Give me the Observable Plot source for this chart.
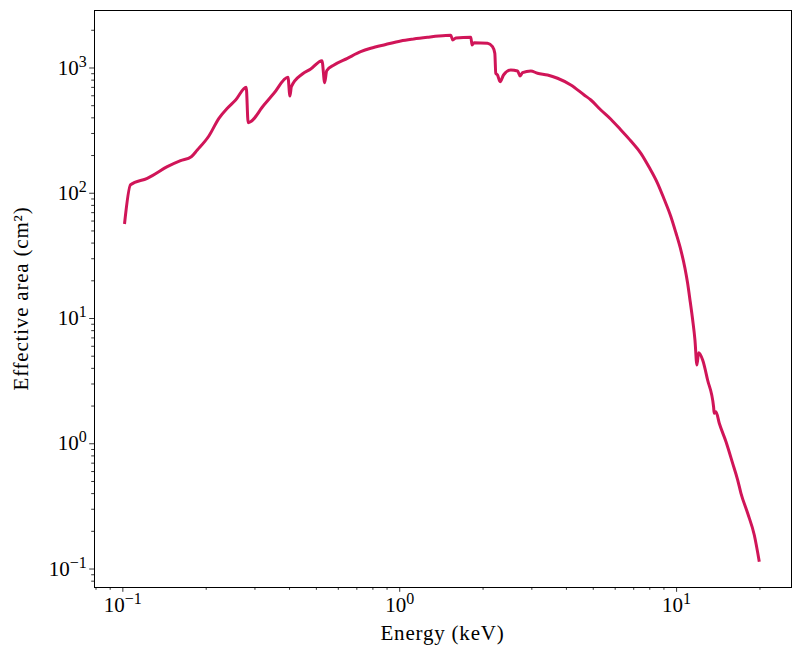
<!DOCTYPE html>
<html>
<head>
<meta charset="utf-8">
<script src="https://cdn.jsdelivr.net/npm/d3@7"></script>
<script src="https://cdn.jsdelivr.net/npm/@observablehq/plot@0.6"></script>
<style>
  html, body { margin: 0; padding: 0; background: #fff; }
  #chart svg { display: block; }
</style>
</head>
<body>
<div id="chart"></div>
<script>
// Energy (keV) and effective area (cm^2)
const energy = [
  0.1014, 0.1066, 0.1225, 0.1278, 0.1447, 0.1616, 0.1767, 0.1857, 0.2045, 0.2223,
  0.2384, 0.2555, 0.2790, 0.2835, 0.3233, 0.3513, 0.3947, 0.4013, 0.4061, 0.4450,
  0.4770, 0.5238, 0.5358, 0.5448, 0.5790, 0.6471, 0.7228, 0.7855, 0.890, 1.0083,
  1.1235, 1.2593, 1.384, 1.5285, 1.554, 1.594, 1.806, 1.825, 1.856, 2.075,
  2.163, 2.205, 2.223, 2.255, 2.304, 2.371, 2.519, 2.664, 2.722, 2.777,
  2.975, 3.146, 3.419, 3.715, 4.150, 4.636, 4.902, 5.326, 5.80, 6.292, 6.837,
  7.430, 7.96, 8.537, 9.02, 9.537, 9.94, 10.36, 10.72, 10.96, 11.20,
  11.43, 11.65, 11.84, 12.01, 12.42, 12.94, 13.60, 13.67, 13.87, 14.26,
  15.08, 15.94, 16.62, 17.08, 18.06, 19.08, 19.89
];
const area = [
  56.8, 117.0, 131.6, 138.1, 162.9, 181.9, 195.8, 221.4, 286.5, 396.7,
  476.8, 555.2, 701.4, 365.8, 506.5, 628.1, 842.6, 597.6, 709.2, 895.5,
  982, 1144, 763, 951.5, 1057, 1195, 1349, 1437, 1540, 1643,
  1704, 1759, 1801, 1824, 1674, 1736, 1759, 1526, 1592, 1575,
  1480, 1311, 907, 879, 777.5, 879, 964, 946, 863, 917,
  946, 907, 879, 828, 731.8, 608.6, 555, 462, 388, 319.9, 261.3,
  208.4, 161.2, 120.1, 89.5, 65.0, 48.4, 35.2, 25.2, 19.1, 13.6,
  9.73, 6.73, 4.25, 5.33, 4.66, 3.23, 1.976, 1.75, 1.80, 1.457,
  1.038, 0.698, 0.5135, 0.402, 0.2784, 0.1868, 0.1144
];

const xMajor = [0.1, 1, 10];
const xMinor = [0.08, 0.09, 0.2, 0.3, 0.4, 0.5, 0.6, 0.7, 0.8, 0.9, 2, 3, 4, 5, 6, 7, 8, 9, 20];
const yMajor = [0.1, 1, 10, 100, 1000];
const yMinor = [0.08, 0.09, 0.2, 0.3, 0.4, 0.5, 0.6, 0.7, 0.8, 0.9, 2, 3, 4, 5, 6, 7, 8, 9,
  20, 30, 40, 50, 60, 70, 80, 90, 200, 300, 400, 500, 600, 700, 800, 900, 2000];

const xLabel = "Energy (keV)";
const yLabel = "Effective area (cm²)";

const data = energy.map((e, i) => ({energy: e, area: area[i]}));

const sup = {"-": "⁻", "0": "⁰", "1": "¹", "2": "²", "3": "³", "4": "⁴", "5": "⁵", "6": "⁶", "7": "⁷", "8": "⁸", "9": "⁹"};
const unsup = Object.fromEntries(Object.entries(sup).map(([k, v]) => [v, k === "-" ? "−" : k]));
const pow10 = v => "10" + String(Math.round(Math.log10(v))).split("").map(c => sup[c]).join("");

const FONT = "'Liberation Serif', 'DejaVu Serif', serif";

const chart = Plot.plot({
  width: 800,
  height: 657,
  marginLeft: 94,
  marginRight: 9,
  marginTop: 10,
  marginBottom: 70,
  style: {fontFamily: FONT, color: "#000", background: "#fff"},
  x: {type: "log", domain: [0.0790, 26.0]},
  y: {type: "log", domain: [0.0712, 2877]},
  marks: [
    Plot.axisX(xMinor, {tickSize: 2.8, text: null, stroke: "#000", strokeWidth: 0.8, label: null}),
    Plot.axisX(xMajor, {tickSize: 4.8, tickPadding: 5, tickFormat: pow10, fontSize: 21, stroke: "#000", strokeWidth: 0.8, label: null}),
    Plot.axisY(yMinor, {tickSize: 2.8, text: null, stroke: "#000", strokeWidth: 0.8, label: null}),
    Plot.axisY(yMajor, {tickSize: 4.8, tickPadding: 3, tickFormat: pow10, fontSize: 21, stroke: "#000", strokeWidth: 0.8, label: null}),
    Plot.line(data, {x: "energy", y: "area", stroke: "#d01558", strokeWidth: 3, strokeLinejoin: "round", strokeLinecap: "butt", curve: "monotone-x"}),
    Plot.frame({stroke: "#000", strokeWidth: 1})
  ]
});

const svg = d3.select(chart);

// Rewrite tick labels as "10" + raised exponent (kept as real text)
svg.selectAll("text").each(function () {
  const t = this.textContent;
  if (!t.startsWith("10") || t.length < 3) return;
  const rest = t.slice(2).split("");
  if (!rest.every(c => c in unsup)) return;
  const exp = rest.map(c => unsup[c]).join("");
  const el = d3.select(this);
  el.selectAll("*").remove();
  el.text(null);
  el.append("tspan").text("10");
  el.append("tspan").attr("dy", "-0.5em").attr("font-size", 16).text(exp);
});

// axis titles
svg.append("text")
  .attr("x", (94 + 791) / 2)
  .attr("y", 640)
  .attr("text-anchor", "middle")
  .attr("font-family", FONT)
  .attr("font-size", 21)
  .attr("letter-spacing", 0.8)
  .attr("fill", "#000")
  .text(xLabel);
svg.append("text")
  .attr("transform", `translate(28, ${(10 + 587) / 2}) rotate(-90)`)
  .attr("text-anchor", "middle")
  .attr("font-family", FONT)
  .attr("font-size", 21)
  .attr("letter-spacing", 0.8)
  .attr("fill", "#000")
  .text(yLabel);

document.getElementById("chart").appendChild(chart);
</script>
</body>
</html>
